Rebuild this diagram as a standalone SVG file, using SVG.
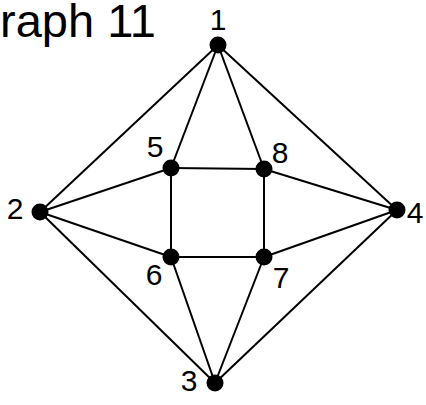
<svg xmlns="http://www.w3.org/2000/svg" width="426" height="405" viewBox="0 0 426 405">
<style>
text{font-family:"Liberation Sans",Arial,sans-serif;fill:#000}
.lbl{font-size:30px}
.e line{stroke:#000;stroke-width:2}
circle{fill:#000}
</style>
<rect width="426" height="405" fill="#fff"/>
<text x="0" y="37" font-size="47">raph 11</text>
<g class="e" id="edges">
<line x1="218" y1="45" x2="40" y2="212"/>
<line x1="218" y1="45" x2="397" y2="210"/>
<line x1="218" y1="45" x2="171" y2="168"/>
<line x1="218" y1="45" x2="264" y2="169"/>
<line x1="40" y1="212" x2="171" y2="168"/>
<line x1="40" y1="212" x2="171" y2="257"/>
<line x1="40" y1="212" x2="215" y2="383"/>
<line x1="397" y1="210" x2="264" y2="169"/>
<line x1="397" y1="210" x2="264" y2="257"/>
<line x1="397" y1="210" x2="215" y2="383"/>
<line x1="215" y1="383" x2="171" y2="257"/>
<line x1="215" y1="383" x2="264" y2="257"/>
<line x1="171" y1="168" x2="264" y2="169"/>
<line x1="264" y1="169" x2="264" y2="257"/>
<line x1="264" y1="257" x2="171" y2="257"/>
<line x1="171" y1="257" x2="171" y2="168"/>
</g>
<g id="n1"><circle cx="218" cy="45" r="8.5"/><text class="lbl" x="218" y="30" text-anchor="middle">1</text></g>
<g id="n2"><circle cx="40" cy="212" r="8.5"/><text class="lbl" x="15" y="219" text-anchor="middle">2</text></g>
<g id="n3"><circle cx="215" cy="383" r="8.5"/><text class="lbl" x="189" y="391" text-anchor="middle">3</text></g>
<g id="n4"><circle cx="397" cy="210" r="8.5"/><text class="lbl" x="415" y="223" text-anchor="middle">4</text></g>
<g id="n5"><circle cx="171" cy="168" r="8.5"/><text class="lbl" x="155" y="157" text-anchor="middle">5</text></g>
<g id="n6"><circle cx="171" cy="257" r="8.5"/><text class="lbl" x="154" y="285" text-anchor="middle">6</text></g>
<g id="n7"><circle cx="264" cy="257" r="8.5"/><text class="lbl" x="281" y="288" text-anchor="middle">7</text></g>
<g id="n8"><circle cx="264" cy="169" r="8.5"/><text class="lbl" x="280" y="163" text-anchor="middle">8</text></g>
</svg>
